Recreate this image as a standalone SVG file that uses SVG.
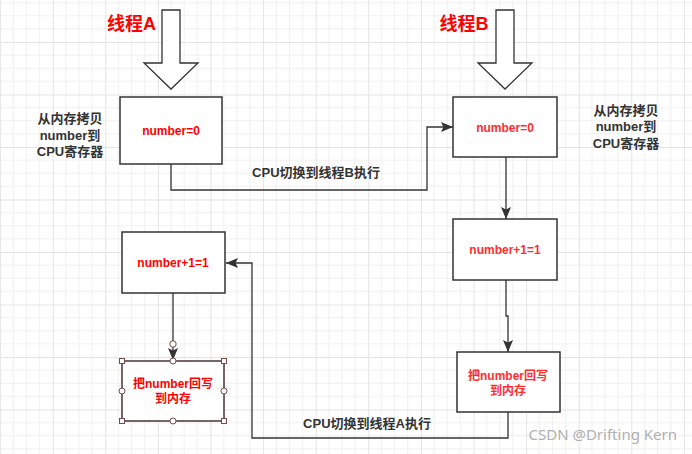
<svg xmlns="http://www.w3.org/2000/svg" width="692" height="454" viewBox="0 0 692 454">
<style>
.box{fill:#ffffff;stroke:#333333;stroke-width:1.5}
.big{fill:#ffffff;stroke:#333333;stroke-width:1.3}
.edge{fill:none;stroke:#333333;stroke-width:1.3}
.lbl{font-family:"Liberation Sans","Noto Sans CJK SC",sans-serif;font-weight:bold;font-size:13px;fill:#333333;text-anchor:middle}
.red{font-family:"Liberation Sans","Noto Sans CJK SC",sans-serif;font-weight:bold;font-size:12px;fill:#ff0000;text-anchor:middle}
.redb{fill:#ff2e2e}
.title{font-family:"Liberation Sans","Noto Sans CJK SC",sans-serif;font-weight:bold;font-size:18px;fill:#ff0000;text-anchor:middle}
.hd{fill:#ffffff;stroke:#7a4a4a;stroke-width:1}
</style>
<defs>
<pattern id="grid" patternUnits="userSpaceOnUse" x="0.1" y="42" width="52.6" height="52.5">
<path d="M13.15,0V52.5M26.3,0V52.5M39.45,0V52.5M0,13.13H52.6M0,26.25H52.6M0,39.38H52.6" stroke="#f0f0f0" stroke-width="1" fill="none"/>
<path d="M0.5,0V52.5M0,0.5H52.6" stroke="#e4e4e4" stroke-width="1" fill="none"/>
</pattern>
<marker id="arr" markerUnits="userSpaceOnUse" markerWidth="12" markerHeight="12" viewBox="0 0 10 10" refX="10" refY="5" orient="auto">
<path d="M0,0.8 L10,5 L0,9.2 L2,5 Z" fill="#333333"/>
</marker>
</defs>
<rect width="692" height="454" fill="#ffffff"/>
<rect width="692" height="454" fill="url(#grid)"/>

<g id="connectors">
<path class="edge" d="M171,164 V190 H427 V127 H453" marker-end="url(#arr)"/>
<path class="edge" d="M506,157 V219" marker-end="url(#arr)"/>
<path class="edge" d="M506,280 V316 H508 V352" marker-end="url(#arr)"/>
<path class="edge" d="M508,412 V438 H252 V263 H226" marker-end="url(#arr)"/>
<path class="edge" d="M173,293 V360" marker-end="url(#arr)"/>
<text class="lbl" x="316" y="177">CPU切换到线程B执行</text>
<text class="lbl" x="367" y="428">CPU切换到线程A执行</text>
</g>

<g id="threadA">
<text class="title" x="131.5" y="30">线程A</text>
<polygon class="big" points="162,10 180,10 180,63 198,63 171,89 144,63 162,63"/>
</g>
<g id="threadB">
<text class="title" x="464" y="30">线程B</text>
<polygon class="big" points="496,10 514,10 514,63 532,63 505,89 478,63 496,63"/>
</g>

<g id="noteA">
<text class="lbl" x="70" y="123">从内存拷贝</text>
<text class="lbl" x="70" y="140">number到</text>
<text class="lbl" x="70" y="156">CPU寄存器</text>
</g>
<g id="noteB">
<text class="lbl" x="626" y="115">从内存拷贝</text>
<text class="lbl" x="626" y="131">number到</text>
<text class="lbl" x="626" y="148">CPU寄存器</text>
</g>

<g id="A1">
<rect class="box" x="120" y="97" width="102" height="67"/>
<text class="red" x="171" y="135">number=0</text>
</g>
<g id="B1">
<rect class="box" x="453" y="97" width="104" height="60"/>
<text class="red redb" x="505" y="132">number=0</text>
</g>
<g id="B2">
<rect class="box" x="453" y="219" width="104" height="61"/>
<text class="red redb" x="505" y="254">number+1=1</text>
</g>
<g id="B3">
<rect class="box" x="457" y="352" width="103" height="60"/>
<text class="red redb" x="508" y="380">把number回写</text>
<text class="red redb" x="508" y="395">到内存</text>
</g>
<g id="A2">
<rect class="box" x="122" y="232" width="103" height="61"/>
<text class="red" x="173" y="267">number+1=1</text>
</g>
<g id="A3">
<rect x="122" y="361" width="102" height="60" fill="#ffffff" stroke="#4a3535" stroke-width="1.5"/>
<text class="red" x="173" y="388">把number回写</text>
<text class="red" x="173" y="403">到内存</text>
<circle class="hd" cx="173" cy="344" r="3.2"/>
<rect class="hd" x="119.5" y="358.5" width="5" height="5"/>
<rect class="hd" x="221.5" y="358.5" width="5" height="5"/>
<rect class="hd" x="119.5" y="418.5" width="5" height="5"/>
<rect class="hd" x="221.5" y="418.5" width="5" height="5"/>
<circle class="hd" cx="173" cy="361" r="3"/>
<circle class="hd" cx="173" cy="421" r="3"/>
<circle class="hd" cx="122" cy="391" r="3"/>
<circle class="hd" cx="224" cy="391" r="3"/>
</g>

<text x="677" y="440" text-anchor="end" font-family="'Noto Sans','Liberation Sans',sans-serif" font-size="15" fill="#b0b0b0">CSDN @Drifting Kern</text>
</svg>
